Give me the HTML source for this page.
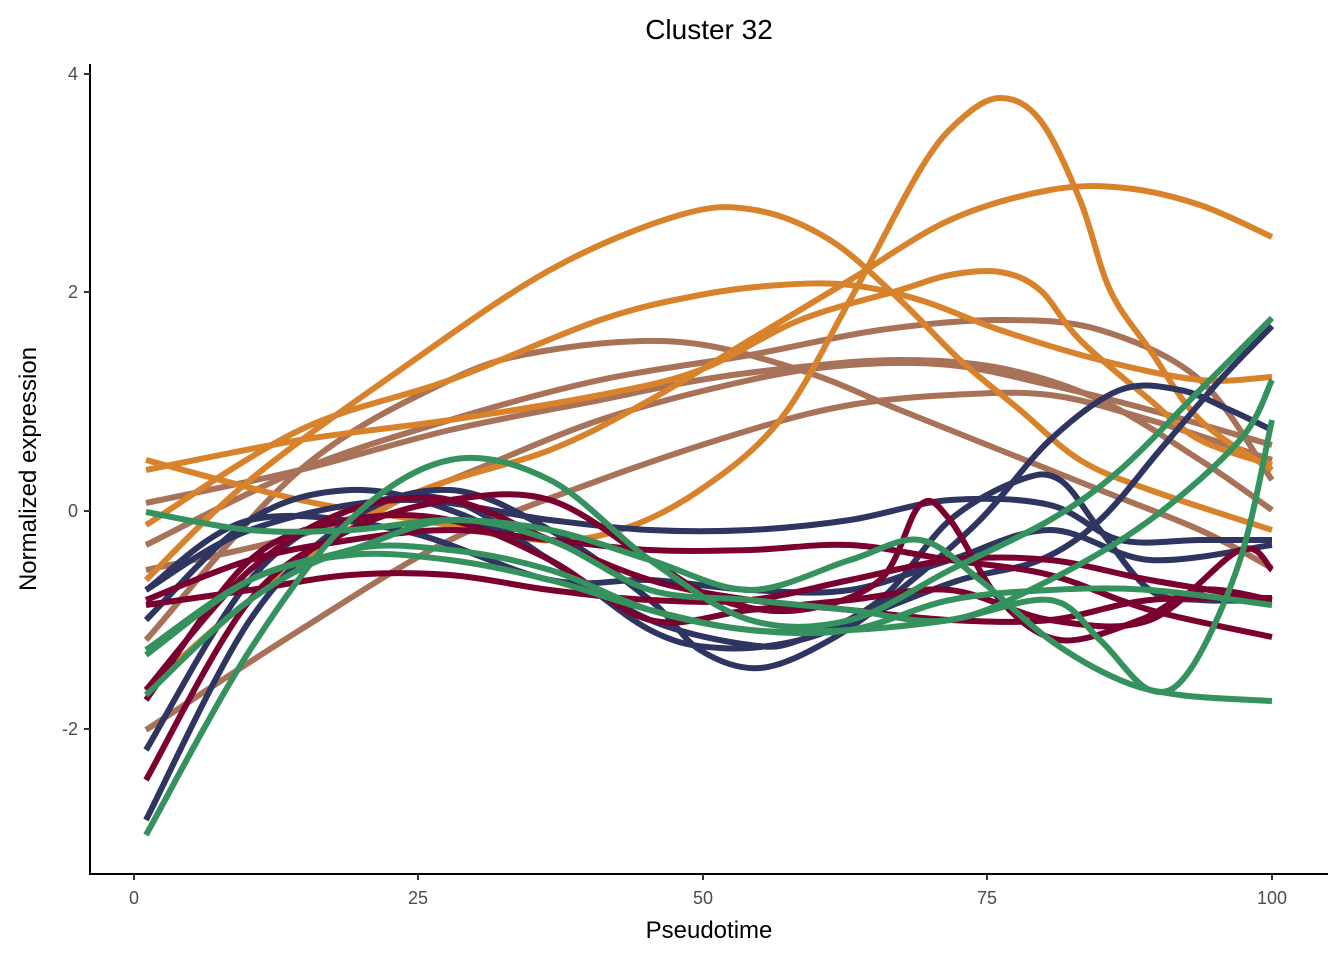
<!DOCTYPE html>
<html><head><meta charset="utf-8"><style>
body{margin:0;background:#fff}
svg text{font-family:"Liberation Sans",Arial,sans-serif}
</style></head><body>
<svg id="s" width="1344" height="960" xmlns="http://www.w3.org/2000/svg">
<rect width="1344" height="960" fill="#fff"/>
<g id="lines" fill="none" stroke-width="6" stroke-linecap="butt" stroke-linejoin="round"></g>
<line x1="90" y1="64" x2="90" y2="875" stroke="#000" stroke-width="2"/>
<line x1="89" y1="874" x2="1328" y2="874" stroke="#000" stroke-width="2"/>
<g stroke="#333" stroke-width="2">
<line x1="84" y1="74" x2="90" y2="74"/><line x1="84" y1="292" x2="90" y2="292"/>
<line x1="84" y1="511" x2="90" y2="511"/><line x1="84" y1="729" x2="90" y2="729"/>
<line x1="134" y1="874" x2="134" y2="880"/><line x1="418" y1="874" x2="418" y2="880"/>
<line x1="703" y1="874" x2="703" y2="880"/><line x1="987" y1="874" x2="987" y2="880"/>
<line x1="1272" y1="874" x2="1272" y2="880"/>
</g>
<g font-size="18" fill="#4d4d4d" text-anchor="end">
<text x="78" y="80">4</text><text x="78" y="298">2</text><text x="78" y="517">0</text><text x="78" y="735">-2</text>
</g>
<g font-size="18" fill="#4d4d4d" text-anchor="middle">
<text x="134" y="904">0</text><text x="418" y="904">25</text><text x="703" y="904">50</text><text x="987" y="904">75</text><text x="1272" y="904">100</text>
</g>
<text x="709" y="938" font-size="24" text-anchor="middle">Pseudotime</text>
<text x="709" y="39" font-size="28" text-anchor="middle">Cluster 32</text>
<text transform="translate(36,469) rotate(-90)" font-size="24" text-anchor="middle">Normalized expression</text>
</svg>
<script>
var O="#D8832B",B="#A87259",N="#2E3560",C="#7A0030",G="#35925E";
var S=[
[B,[146,503,300,470,450,430,600,400,700,380,800,367,900,360,1000,368,1100,400,1200,460,1272,510]],
[B,[146,640,300,470,450,380,550,350,680,342,800,370,900,410,1000,450,1100,490,1200,530,1272,568]],
[B,[146,570,300,535,450,480,600,420,750,380,850,365,950,365,1050,385,1150,410,1272,445]],
[B,[146,730,300,630,450,540,600,480,750,430,850,405,950,395,1050,395,1150,420,1272,460]],
[B,[146,545,300,470,450,420,600,380,750,355,880,330,1000,320,1100,330,1200,380,1272,480]],
[O,[146,460,300,500,420,520,540,540,620,530,700,490,780,420,850,300,920,170,960,120,1000,98,1040,120,1080,200,1110,290,1150,350,1200,420,1272,470]],
[O,[146,580,250,480,400,370,550,270,680,215,755,210,830,240,900,300,960,360,1020,410,1080,460,1150,490,1272,530]],
[O,[146,525,300,430,450,380,600,320,700,295,780,285,850,285,920,300,1000,330,1100,360,1200,380,1272,377]],
[O,[146,470,300,440,450,420,600,395,700,370,800,320,900,290,950,275,1000,272,1040,290,1080,340,1150,400,1200,440,1272,465]],
[O,[146,690,250,600,400,500,550,450,650,400,750,340,850,280,950,220,1050,190,1125,188,1200,205,1272,237]],
[N,[146,820,250,620,350,520,450,490,550,530,650,600,700,650,760,668,830,640,900,590,980,520,1050,440,1120,390,1180,390,1230,410,1272,430]],
[N,[146,750,250,580,350,510,450,500,550,560,650,620,750,645,800,640,880,600,950,520,1020,480,1060,480,1100,530,1150,590,1200,600,1272,600]],
[N,[146,620,250,520,350,490,450,510,550,560,650,630,720,648,800,640,880,610,960,580,1040,560,1100,520,1160,450,1220,380,1272,326]],
[N,[146,590,250,530,400,500,550,520,650,530,750,530,850,520,950,500,1050,505,1120,540,1200,540,1272,540]],
[N,[146,590,250,520,400,530,550,580,650,580,750,590,850,590,950,560,1050,530,1150,560,1272,545]],
[C,[146,780,250,600,350,530,450,500,550,500,650,560,720,600,800,610,880,580,920,505,950,520,1000,600,1060,640,1140,620,1200,590,1272,600]],
[C,[146,690,250,570,350,510,450,500,550,540,650,580,750,600,850,610,950,620,1050,620,1150,600,1272,598]],
[C,[146,600,250,560,350,540,450,530,550,540,650,550,750,550,850,545,950,560,1050,575,1150,610,1272,637]],
[C,[146,605,250,590,350,575,450,575,550,590,650,600,750,600,850,580,950,560,1050,560,1150,580,1272,600]],
[C,[146,700,250,560,350,520,450,520,550,560,650,620,750,610,850,600,950,590,1050,620,1150,620,1240,550,1272,570]],
[G,[146,512,250,530,350,530,450,520,550,530,650,560,750,590,850,560,920,540,980,580,1050,640,1120,680,1180,695,1272,701]],
[G,[146,835,250,650,350,520,450,460,550,480,650,560,750,620,850,620,950,570,1050,520,1120,470,1200,390,1272,318]],
[G,[146,655,250,580,350,550,450,520,550,540,650,590,750,600,850,610,950,620,1050,580,1150,520,1240,440,1272,380]],
[G,[146,695,250,600,350,550,450,550,550,570,650,610,750,630,850,630,950,600,1050,590,1150,590,1272,605]],
[G,[146,650,250,580,350,555,450,560,550,580,650,610,750,630,850,630,950,620,1050,600,1100,640,1150,690,1190,670,1240,560,1272,420]]
];
var g=document.getElementById("lines"),ns="http://www.w3.org/2000/svg";
S.forEach(function(s){var a=s[1],p=[];for(var i=0;i<a.length;i+=2)p.push([a[i],a[i+1]]);
var d="M"+p[0][0]+","+p[0][1];
for(var i=0;i<p.length-1;i++){var p0=p[i-1]||p[i],p1=p[i],p2=p[i+1],p3=p[i+2]||p2;
d+=" C"+(p1[0]+(p2[0]-p0[0])/6)+","+(p1[1]+(p2[1]-p0[1])/6)+" "+(p2[0]-(p3[0]-p1[0])/6)+","+(p2[1]-(p3[1]-p1[1])/6)+" "+p2[0]+","+p2[1];}
var e=document.createElementNS(ns,"path");e.setAttribute("d",d);e.setAttribute("stroke",s[0]);g.appendChild(e);});
</script>
</body></html>
